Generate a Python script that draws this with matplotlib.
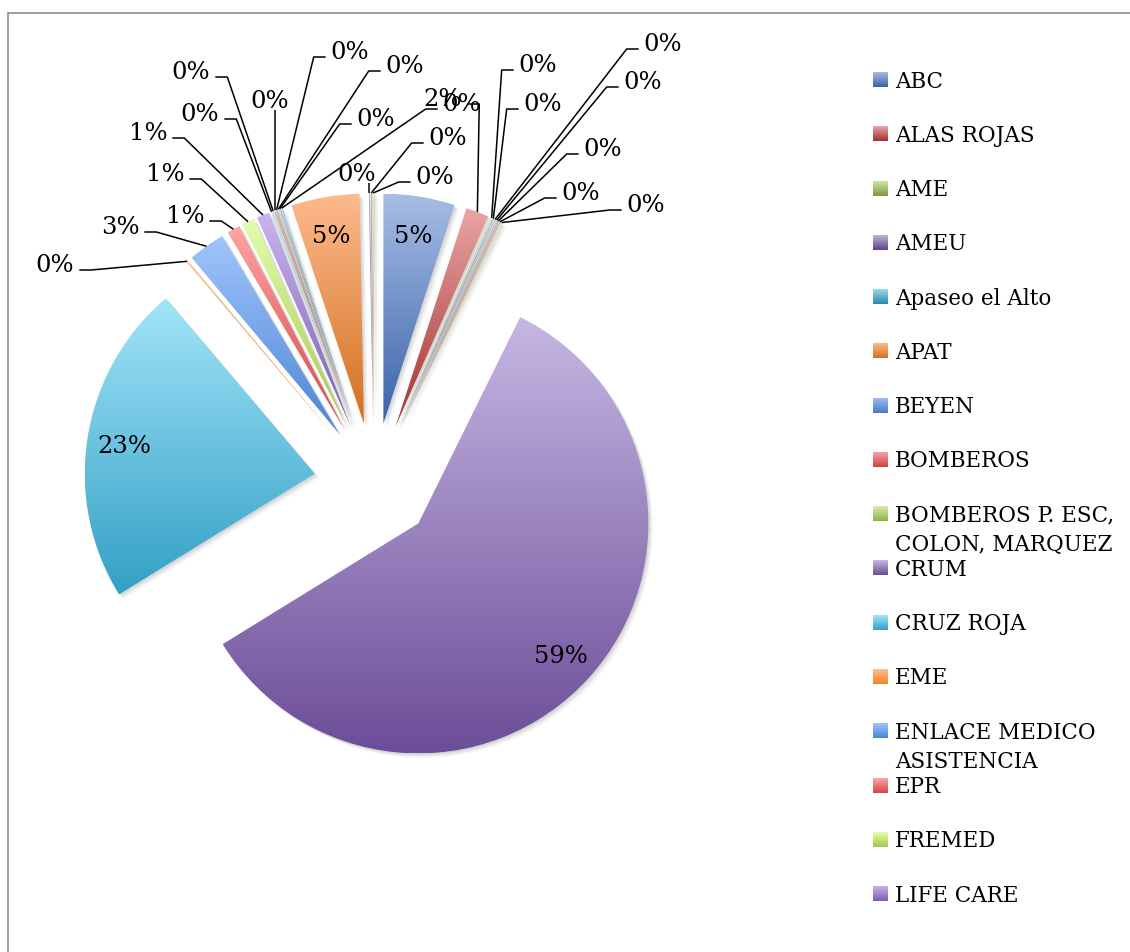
"""
Exploded pie of services by institution (Excel-style gradient slices,
leader-line labels and a right-hand legend that is cut after 16 rows).
"""
import textwrap
import numpy as np
import matplotlib
matplotlib.use('Agg')
import matplotlib.pyplot as plt
from matplotlib.colors import LinearSegmentedColormap
from matplotlib.patches import Wedge, Rectangle

W, H = 1130, 953

# --- data -------------------------------------------------------------
categories = ['ABC', 'ALAS ROJAS', 'AME', 'AMEU', 'Apaseo el Alto', 'APAT',
              'BEYEN', 'BOMBEROS', 'BOMBEROS P. ESC, COLON, MARQUEZ', 'CRUM',
              'CRUZ ROJA', 'EME', 'ENLACE MEDICO ASISTENCIA', 'EPR', 'FREMED',
              'LIFE CARE',
              # the remaining categories are cut off in the legend
              '', '', '', '', '', '', '', '', '', '', '']
values = [50, 16, 1, 1, 1, 1, 1, 1, 1, 589, 226, 1, 26, 9, 9, 9,
          1, 1, 1, 1, 1, 1, 1, 48, 1, 1, 1]
n_legend = 16

# --- style ------------------------------------------------------------
# (top, bottom) colours of the vertical gradient, Excel 2010 palette
grad_colors = [
    ('#a7bde5', '#3a62a9'), ('#e8a5a4', '#a4302e'), ('#d1e4a8', '#7a9a3b'),
    ('#c1b3db', '#5e4486'), ('#9ed9eb', '#2a89a7'), ('#fdba8d', '#d3701f'),
    ('#9dbbf4', '#497ac6'), ('#f6a4a3', '#cf4241'), ('#d8efac', '#8fb246'),
    ('#c6b7e3', '#6c4d98'), ('#a2e5f9', '#33a0c5'), ('#ffbe8d', '#f4852a'),
    ('#a1c5fb', '#4b85d5'), ('#ffa4a4', '#d64545'), ('#e3fdad', '#a4c94c'),
    ('#c8b4ef', '#7c5caf'), ('#a4eaff', '#39b2db'), ('#ffc99d', '#f8943d'),
]
LEGEND_FONT = 'DejaVu Serif'
LABEL_FONT = 'DejaVu Serif'
LABEL_SIZE = 17.5
CENTER = (374, H - 484)
RADIUS = 230
EXPLODE = 60

# outside label layout: slice index -> (x, y from top, side of the leader)
label_layout = {
    1: (443, 97, 'R'),
    2: (538, 63, 'L'), 3: (543, 102, 'L'), 4: (663, 42, 'L'),
    5: (643, 80, 'L'), 6: (603, 147, 'L'), 7: (581, 191, 'L'),
    8: (646, 203, 'L'),
    11: (55, 263, 'R'), 12: (120, 225, 'R'), 13: (185, 214, 'R'),
    14: (165, 172, 'R'), 15: (148, 131, 'R'),
    16: (200, 112, 'R'), 17: (191, 70, 'R'), 18: (270, 99, 'B'),
    19: (350, 50, 'L'), 20: (405, 64, 'L'), 21: (376, 117, 'L'),
    22: (462, 102, 'L'),
    24: (357, 172, 'B'), 25: (448, 136, 'L'), 26: (435, 175, 'L'),
}

total = float(sum(values))
pct_text = ['%d%%' % np.floor(v / total * 100 + 0.5) for v in values]

fig = plt.figure(figsize=(W / 100, H / 100), dpi=100)
ax = fig.add_axes([0, 0, 1, 1])

wedges, _ = ax.pie(values, explode=[EXPLODE] * len(values), radius=RADIUS,
                   center=CENTER, startangle=90, counterclock=False,
                   frame=True, wedgeprops=dict(linewidth=0))
ax.set_aspect('auto')
ax.set_xlim(0, W)
ax.set_ylim(0, H)
ax.set_autoscale_on(False)
ax.axis('off')

for i, w in enumerate(wedges):
    # soft shadow to the lower right
    for k, a in [(1.5, 0.07), (3.0, 0.06), (4.5, 0.04)]:
        sh = Wedge((w.center[0] + k, w.center[1] - k), w.r, w.theta1, w.theta2,
                   facecolor='black', alpha=a, linewidth=0, zorder=1)
        ax.add_patch(sh)
    top, bot = grad_colors[i % len(grad_colors)]
    cmap = LinearSegmentedColormap.from_list('g%d' % i, [bot, top])
    ext = w.get_path().get_extents()
    grad = np.linspace(0, 1, 256).reshape(-1, 1)
    im = ax.imshow(grad, extent=[ext.x0, ext.x1, ext.y0, ext.y1],
                   origin='lower', cmap=cmap, aspect='auto',
                   interpolation='bilinear', zorder=2)
    im.set_clip_path(w)
    w.set_facecolor('none')
    w.set_zorder(2)

# labels inside the big slices
for i, w in enumerate(wedges):
    if i in label_layout:
        continue
    a = np.deg2rad((w.theta1 + w.theta2) / 2)
    x = w.center[0] + 0.84 * w.r * np.cos(a)
    y = w.center[1] + 0.84 * w.r * np.sin(a)
    ax.text(x, y - 9, pct_text[i], ha='center', va='baseline',
            fontsize=LABEL_SIZE, family=LABEL_FONT, zorder=5)

# labels outside with leader lines
renderer = fig.canvas.get_renderer()
for i, (lx, ly, side) in label_layout.items():
    w = wedges[i]
    Y = H - ly
    t = ax.text(lx, Y - 9, pct_text[i], ha='center', va='baseline',
                fontsize=LABEL_SIZE, family=LABEL_FONT, zorder=5)
    bb = t.get_window_extent(renderer)
    a = np.deg2rad((w.theta1 + w.theta2) / 2)
    anc = (w.center[0] + w.r * np.cos(a), w.center[1] + w.r * np.sin(a))
    if side == 'L':
        x_att = bb.x0 - 5
        pts = [anc, (x_att - 12, Y - 8), (x_att, Y - 8)]
    elif side == 'R':
        x_att = bb.x1 + 5
        pts = [anc, (x_att + 12, Y - 8), (x_att, Y - 8)]
    else:
        pts = [anc, (anc[0], Y - 12)]
    xs, ys = zip(*pts)
    ax.plot(xs, ys, color='black', lw=1.1, zorder=4, solid_capstyle='butt')

# legend (rows at a fixed pitch, wrapped names overlap the next row)
row0, pitch = 80.5, 54.27
for i in range(n_legend):
    yc = H - (row0 + i * pitch)
    top, bot = grad_colors[i % len(grad_colors)]
    cmap = LinearSegmentedColormap.from_list('l%d' % i, [bot, top])
    ax.imshow(np.linspace(0, 1, 64).reshape(-1, 1),
              extent=[873, 888, yc - 7.5, yc + 7.5], origin='lower',
              cmap=cmap, aspect='auto', zorder=3)
    for k, line in enumerate(textwrap.wrap(categories[i], 16)):
        ax.text(895, yc - 7 - k * 29, line, ha='left', va='baseline',
                fontsize=15.5, family=LEGEND_FONT, zorder=5)

# chart area frame (cut at the right and bottom)
ax.add_patch(Rectangle((8, -20), W + 20, H - 14 + 20, facecolor='none',
                       edgecolor='#8c8c8c', lw=1.2, zorder=0))

fig.savefig('out.png', dpi=100, facecolor='white')
